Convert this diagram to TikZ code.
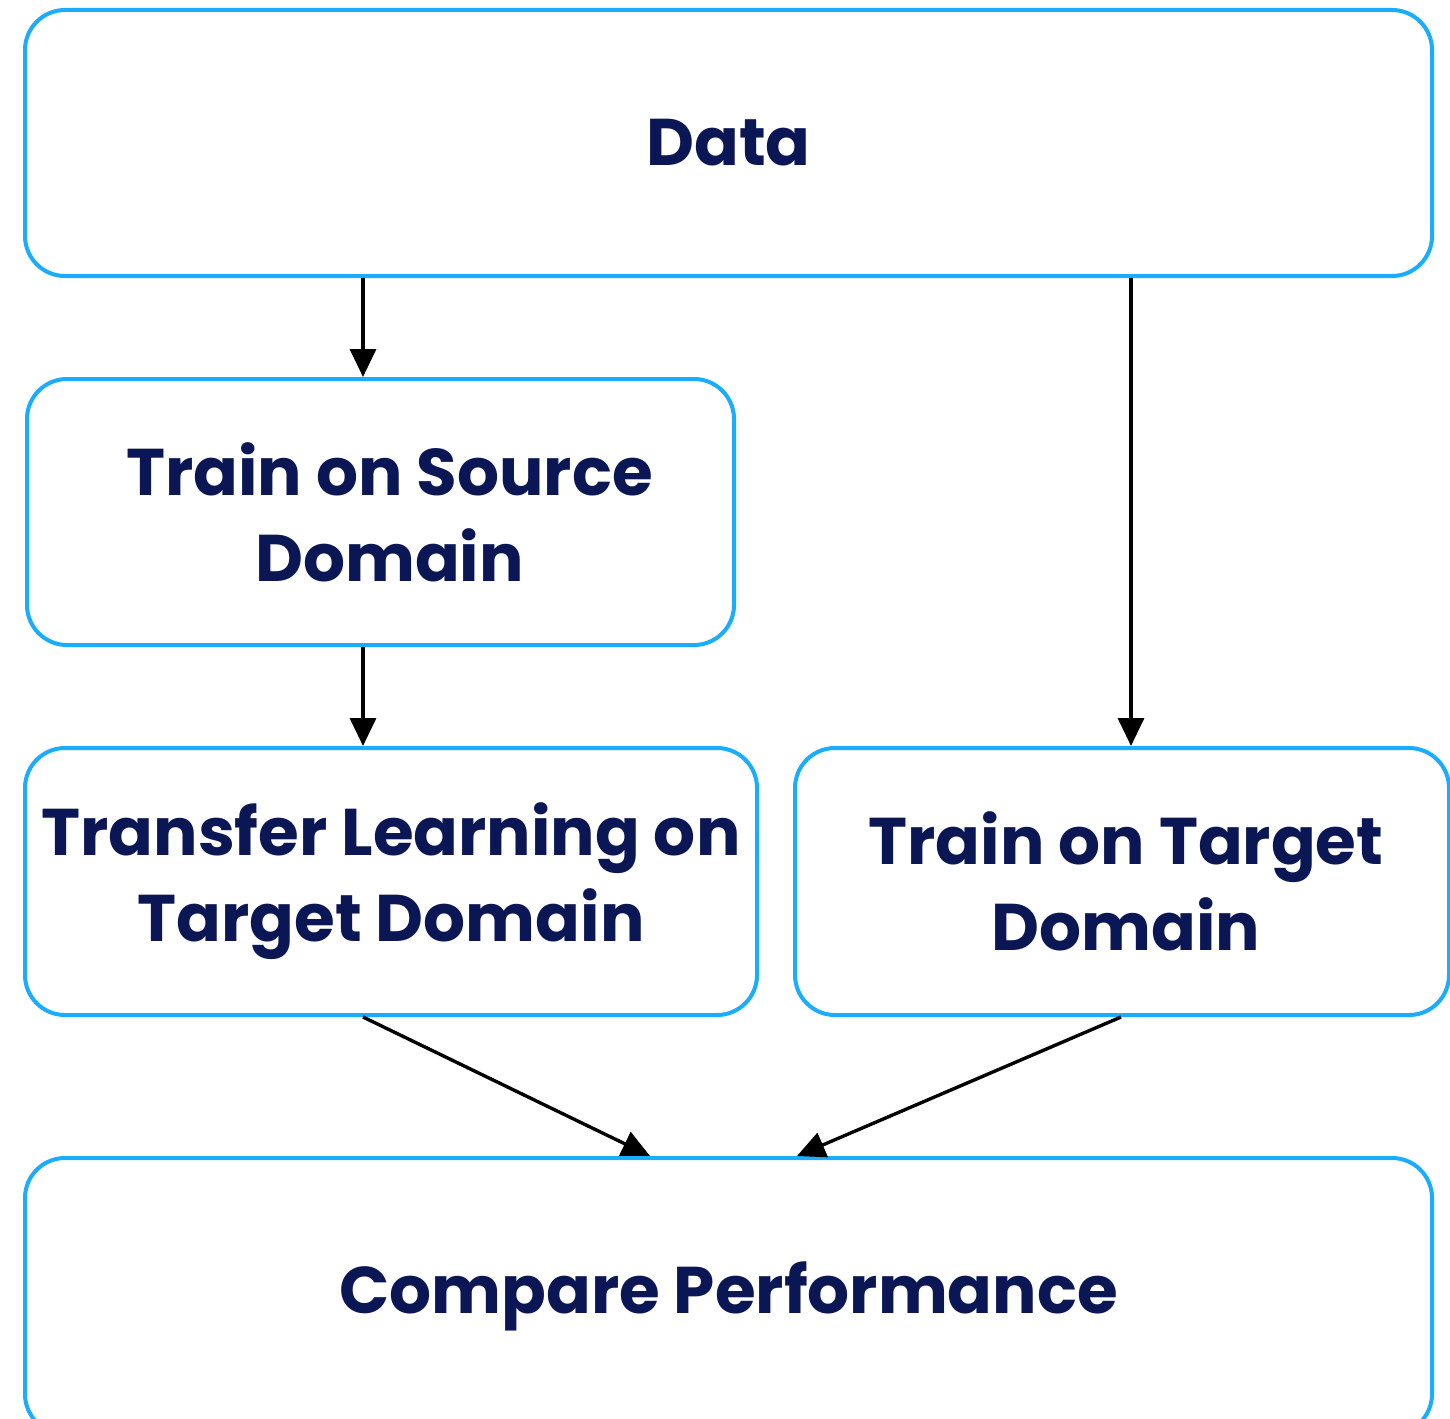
\documentclass[tikz,border=0pt]{standalone}
\usepackage{fontspec}
\setmainfont{Poppins}
\usetikzlibrary{arrows.meta}
\definecolor{boxline}{HTML}{1AACFF}
\definecolor{navytext}{HTML}{0B1654}
\tikzset{
  stage/.style={draw=boxline, line width=4pt, rounded corners=40pt, fill=none,
    align=center, text=navytext, inner sep=0pt,
    font=\fontsize{66}{86}\selectfont\bfseries},
  flow/.style={draw=black, line width=3.4pt,
    -{Triangle[length=28pt,width=26pt]}}
}
\begin{document}
\begin{tikzpicture}[x=1pt,y=-1pt]
\useasboundingbox (0,0) rectangle (1450,1418);
% process stages
\node[stage, minimum width=1407pt, minimum height=266pt] (data) at (728.5,143) {Data};
\node[stage, minimum width=707pt, minimum height=266pt] (src) at (380.5,512) {\hspace*{18pt}Train on Source\\\hspace*{18pt}Domain};
\node[stage, minimum width=732pt, minimum height=267pt] (tl) at (391,881.5) {Transfer Learning on\\Target Domain};
\node[stage, minimum width=654pt, minimum height=267pt] (tgt) at (1122,881.5) {\hspace*{8pt}Train on Target\\\hspace*{8pt}Domain};
\node[stage, minimum width=1407pt, minimum height=276pt] (cmp) at (728.5,1296) {Compare Performance};
% guide columns for the connectors
\coordinate (colL) at (363,0);
\coordinate (colR) at (1131,0);
\coordinate (tlout) at (363,0);
\coordinate (tgtout) at (1121,0);
\coordinate (cmpinL) at (650,0);
\coordinate (cmpinR) at (797,0);
% connectors
\draw[flow] (data.south -| colL) -- (src.north -| colL);
\draw[flow] (src.south -| colL) -- (tl.north -| colL);
\draw[flow] (data.south -| colR) -- (tgt.north -| colR);
\draw[flow] (tl.south -| tlout) -- (cmp.north -| cmpinL);
\draw[flow] (tgt.south -| tgtout) -- (cmp.north -| cmpinR);
\end{tikzpicture}
\end{document}
